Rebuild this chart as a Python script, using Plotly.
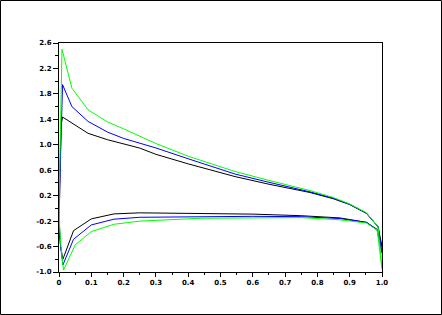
import plotly.graph_objects as go

# Black series
black_x = [1.0, 0.988, 0.952, 0.9, 0.85, 0.777, 0.65, 0.545, 0.4, 0.3, 0.25, 0.15, 0.09, 0.04, 0.011,
           0.006, 0.004, 0.002, 0.0005, 0.002, 0.005, 0.012,
           0.045, 0.10, 0.17, 0.25, 0.44, 0.6, 0.75, 0.87, 0.952, 0.985, 1.0]
black_y = [-0.6, -0.29, -0.08, 0.06, 0.15, 0.25, 0.38, 0.50, 0.70, 0.85, 0.948, 1.08, 1.18, 1.34, 1.436,
           1.3, 0.9, 0.4, -0.2, -0.45, -0.6, -0.80,
           -0.35, -0.165, -0.087, -0.07, -0.076, -0.09, -0.115, -0.15, -0.22, -0.33, -0.6]

# Blue series
blue_x = [1.0, 0.988, 0.952, 0.9, 0.85, 0.777, 0.65, 0.545, 0.4, 0.3, 0.2, 0.15, 0.09, 0.04, 0.011,
          0.007, 0.005, 0.002, 0.0005, 0.002, 0.005, 0.012,
          0.045, 0.10, 0.17, 0.25, 0.44, 0.6, 0.75, 0.87, 0.952, 0.985, 1.0]
blue_y = [-0.7, -0.29, -0.075, 0.065, 0.16, 0.26, 0.41, 0.54, 0.78, 0.95, 1.1, 1.2, 1.367, 1.60, 1.945,
          1.3, 0.9, 0.3, -0.2, -0.4, -0.6, -0.89,
          -0.485, -0.26, -0.17, -0.14, -0.13, -0.125, -0.13, -0.16, -0.22, -0.34, -0.7]

# Green series
green_x = [1.0, 0.988, 0.952, 0.9, 0.85, 0.777, 0.65, 0.545, 0.4, 0.3, 0.2, 0.15, 0.09, 0.04, 0.0093,
           0.007, 0.005, 0.002, 0.0005, 0.002, 0.006, 0.014,
           0.05, 0.10, 0.17, 0.25, 0.44, 0.6, 0.75, 0.87, 0.952, 0.985, 1.0]
green_y = [-0.95, -0.29, -0.07, 0.07, 0.17, 0.28, 0.44, 0.58, 0.82, 1.02, 1.25, 1.36, 1.55, 1.89, 2.5,
           1.9, 1.4, 0.6, 0.2, -0.3, -0.6, -0.97,
           -0.575, -0.365, -0.25, -0.2, -0.155, -0.15, -0.145, -0.18, -0.23, -0.34, -0.95]

x_tickvals = [0, 0.1, 0.2, 0.3, 0.4, 0.5, 0.6, 0.7, 0.8, 0.9, 1.0]
x_ticktext = ["0", "0.1", "0.2", "0.3", "0.4", "0.5", "0.6", "0.7", "0.8", "0.9", "1.0"]
y_tickvals = [-1.0, -0.6, -0.2, 0.2, 0.6, 1.0, 1.4, 1.8, 2.2, 2.6]
y_ticktext = ["-1.0", "-0.6", "-0.2", "0.2", "0.6", "1.0", "1.4", "1.8", "2.2", "2.6"]

fig = go.Figure()
for xs, ys, col in [(black_x, black_y, "#000000"), (blue_x, blue_y, "#0000ff"), (green_x, green_y, "#00ff00")]:
    fig.add_trace(go.Scatter(x=xs, y=ys, mode="lines", line=dict(color=col, width=1), showlegend=False))

W, H = 442, 315
ml, mr, mt, mb = 59, 60, 43, 43
pw, ph = W - ml - mr, H - mt - mb

fig.update_layout(
    width=W, height=H,
    margin=dict(l=ml, r=mr, t=mt, b=mb),
    paper_bgcolor="white", plot_bgcolor="white",
    font=dict(family="DejaVu Sans", size=7, color="black"),
    xaxis=dict(range=[0, 1.0], showgrid=False, zeroline=False, showline=True, linecolor="black",
               linewidth=1, mirror=True, ticks="outside", ticklen=4, tickcolor="black",
               tickvals=x_tickvals, ticktext=x_ticktext,
               minor=dict(ticks="outside", ticklen=2, dtick=0.05, tick0=0, tickcolor="black", showgrid=False),
               tickfont=dict(size=7, weight="bold")),
    yaxis=dict(range=[-1.0, 2.6], showgrid=False, zeroline=False, showline=True, linecolor="black",
               linewidth=1, mirror=True, ticks="outside", ticklen=5, tickcolor="black",
               tickvals=y_tickvals, ticktext=y_ticktext,
               minor=dict(ticks="outside", ticklen=3, dtick=0.2, tick0=-1.0, tickcolor="black", showgrid=False),
               tickfont=dict(size=7, weight="bold")),
    shapes=[dict(type="rect", xref="paper", yref="paper",
                 x0=(0.5 - ml) / pw, x1=(W - 0.5 - ml) / pw,
                 y0=(mt + ph - (H - 0.5)) / ph, y1=(mt + ph - 0.5) / ph,
                 line=dict(color="black", width=1), layer="below")],
)

fig.write_html("out.html")
